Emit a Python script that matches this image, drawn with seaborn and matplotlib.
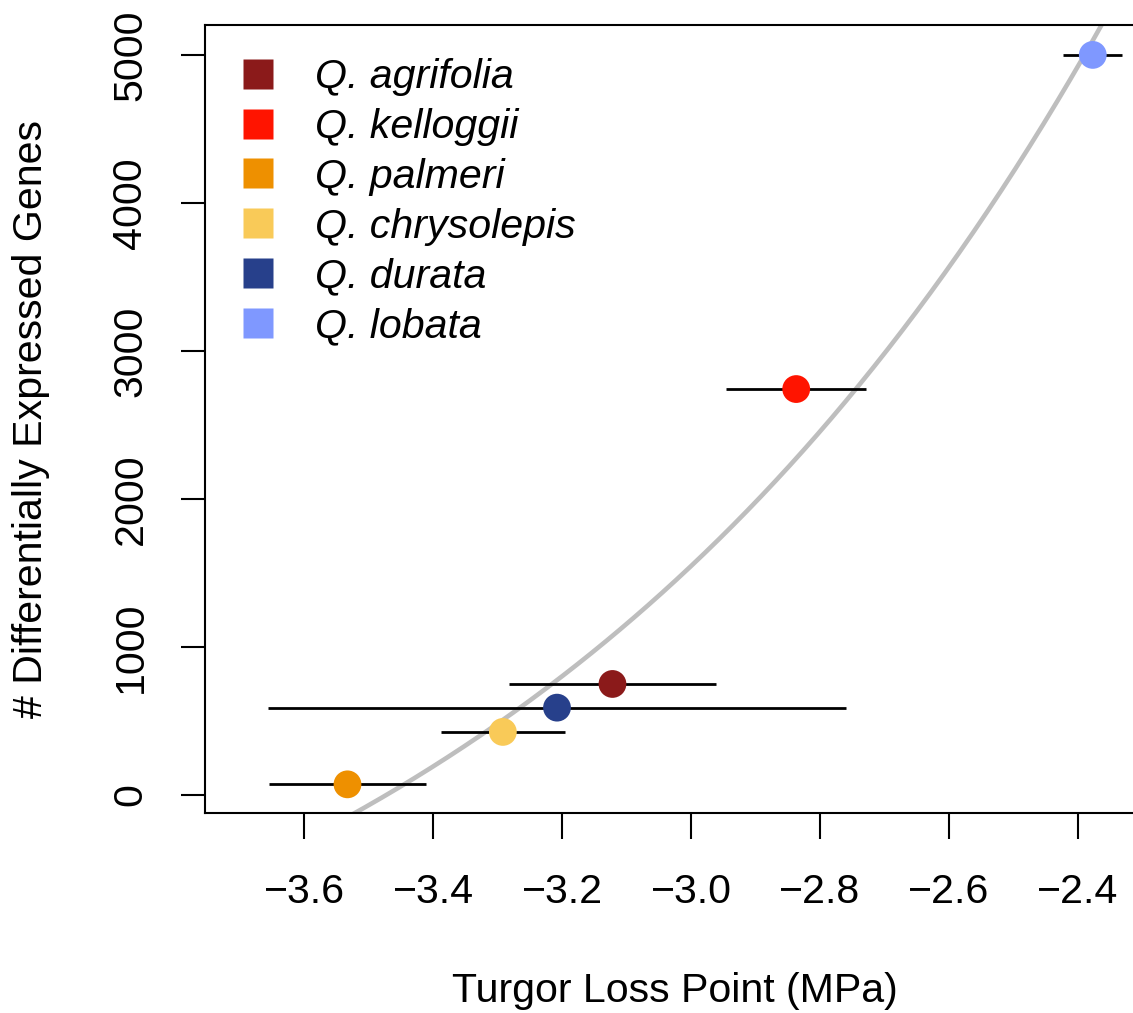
import numpy as np
import pandas as pd
import matplotlib
matplotlib.use("Agg")
import matplotlib.pyplot as plt
from matplotlib.lines import Line2D
import seaborn as sns

# ---- data ----
species = ["Q. agrifolia", "Q. kelloggii", "Q. palmeri", "Q. chrysolepis", "Q. durata", "Q. lobata"]
tlp = [-3.122, -2.837, -3.533, -3.292, -3.208, -2.377]          # Turgor loss point (MPa)
tlp_se = [0.160, 0.109, 0.122, 0.096, 0.448, 0.046]              # horizontal error half-widths
deg = [750, 2742, 72, 426, 590, 4999]                              # number of DE genes
colors = ["#8B1A1A", "#FF1400", "#EE9000", "#F9CA58", "#27408B", "#7F98FF"]
yticks = [0, 1000, 2000, 3000, 4000, 5000]
xticks = [-3.6, -3.4, -3.2, -3.0, -2.8, -2.6, -2.4]

df = pd.DataFrame({"species": species, "tlp": tlp, "se": tlp_se, "deg": deg})

sns.set_style("ticks")
plt.rcParams["font.family"] = ["Liberation Sans", "DejaVu Sans"]
plt.rcParams["axes.unicode_minus"] = True
for k in ["text.color", "axes.labelcolor", "xtick.color", "ytick.color", "axes.edgecolor"]:
    plt.rcParams[k] = "black"

FS = 29.6
W, H = 1133, 1013
fig = plt.figure(figsize=(W / 100, H / 100), dpi=100)
ax = fig.add_axes([205 / W, (H - 813) / H, 940 / W, 788 / H])

xlim = (-3.754, -2.296)
ylim = (-121.6, 5201)

# fitted curve: linear model of DEG on exp(TLP)
slope, intercept = np.polyfit(np.exp(df["tlp"]), df["deg"], 1)
xs = np.linspace(xlim[0], xlim[1], 400)
ax.plot(xs, intercept + slope * np.exp(xs), color="#BEBEBE", lw=3.3, zorder=1,
        solid_capstyle="butt")

# horizontal error bars
ax.errorbar(df["tlp"], df["deg"], xerr=df["se"], fmt="none", ecolor="black",
            elinewidth=2.0, capsize=0, zorder=2)

# points
sns.scatterplot(data=df, x="tlp", y="deg", hue="species", palette=colors,
                hue_order=species, s=400, edgecolor="none", legend=False,
                ax=ax, zorder=3)

ax.set_xlim(*xlim)
ax.set_ylim(*ylim)
ax.set_xticks(xticks)
ax.set_xticklabels([f"{v:.1f}".replace("-", "\u2212") for v in xticks])
ax.set_yticks(yticks)
ax.set_yticklabels([str(v) for v in yticks], rotation=90, va="center")

for s in ax.spines.values():
    s.set_visible(True)
    s.set_linewidth(1.5)
    s.set_color("black")

ax.tick_params(axis="x", direction="out", length=19, width=1.5, labelsize=FS, pad=24)
ax.tick_params(axis="y", direction="out", length=17, width=1.5, labelsize=FS, pad=23)

ax.set_xlabel("Turgor Loss Point (MPa)", fontsize=FS, va="center")
ax.xaxis.set_label_coords(0.5, -0.226)
ax.set_ylabel("# Differentially Expressed Genes", fontsize=FS, va="center")
ax.yaxis.set_label_coords(-0.185, 0.5)

handles = [Line2D([], [], marker="s", linestyle="", markersize=21.6,
                  markerfacecolor=c, markeredgecolor="none") for c in colors]
leg = ax.legend(handles, species, loc="upper left",
                bbox_to_anchor=(238.6 / W, (H - 58) / H), bbox_transform=fig.transFigure,
                frameon=False, borderaxespad=0, borderpad=0,
                handlelength=0.95, handletextpad=0.92, labelspacing=0.29,
                prop={"family": "Liberation Sans", "style": "italic", "size": FS})

fig.savefig("out.png", dpi=100)
